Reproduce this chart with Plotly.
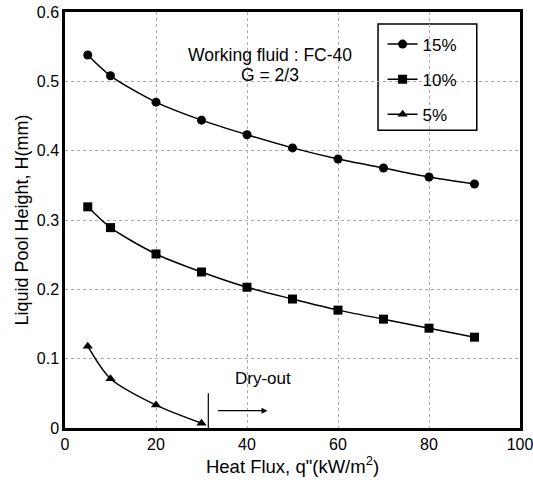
import plotly.graph_objects as go

heat_flux = [5, 10, 20, 30, 40, 50, 60, 70, 80, 90]
h_15 = [0.538, 0.508, 0.470, 0.444, 0.423, 0.404, 0.388, 0.375, 0.362, 0.352]
h_10 = [0.319, 0.289, 0.251, 0.225, 0.203, 0.186, 0.170, 0.157, 0.144, 0.131]
heat_flux_5 = [5, 10, 20, 30]
h_5 = [0.118, 0.071, 0.033, 0.007]

x_ticks = [0, 20, 40, 60, 80, 100]
y_ticks = [0, 0.1, 0.2, 0.3, 0.4, 0.5, 0.6]
y_tick_labels = ["0", "0.1", "0.2", "0.3", "0.4", "0.5", "0.6"]

FONT = "Liberation Sans, Arial, sans-serif"

fig = go.Figure()
series = [
    ("15%", heat_flux, h_15, "circle", 9),
    ("10%", heat_flux, h_10, "square", 9),
    ("5%", heat_flux_5, h_5, "triangle-up", 9),
]
for name, xs, ys, sym, sz in series:
    fig.add_trace(go.Scatter(
        x=xs, y=ys, name=name, mode="lines+markers", legendgroup=name,
        line=dict(color="black", width=1.5, shape="spline", smoothing=0.8),
        marker=dict(symbol=sym, size=sz, color="black"),
    ))

# Dry-out marker line and arrow
fig.add_shape(type="line", x0=31.5, x1=31.5, y0=0, y1=0.05,
              line=dict(color="black", width=1.2))
fig.add_annotation(x=44.5, y=0.025, ax=33.3, ay=0.025, xref="x", yref="y",
                   axref="x", ayref="y", showarrow=True, arrowhead=2,
                   arrowsize=1, arrowwidth=1.2, arrowcolor="black", text="")
fig.add_annotation(x=43.6, y=0.072, text="Dry-out", showarrow=False,
                   font=dict(size=17, color="black", family=FONT))

fig.add_annotation(xref="paper", yref="paper", x=0.451, y=0.925,
                   text="Working fluid : FC-40", showarrow=False,
                   font=dict(size=17.5, color="black", family=FONT))
fig.add_annotation(xref="paper", yref="paper", x=0.451, y=0.877,
                   text="G = 2/3", showarrow=False,
                   font=dict(size=17.5, color="black", family=FONT))

# legend frame
fig.add_shape(type="rect", xref="paper", yref="paper",
              x0=0.688, x1=0.905, y0=0.716, y1=0.971,
              line=dict(color="black", width=1.5), fillcolor="white", layer="below")

fig.update_layout(
    width=533, height=483,
    margin=dict(l=65, r=13, t=12, b=55),
    plot_bgcolor="white", paper_bgcolor="white",
    font=dict(family=FONT, size=15, color="black"),
    showlegend=True,
    legend=dict(x=0.698, y=0.965, xanchor="left", yanchor="top",
                borderwidth=0, bgcolor="rgba(0,0,0,0)",
                font=dict(size=17, family=FONT), itemwidth=30,
                tracegroupgap=10),
)
fig.update_xaxes(
    range=[0, 100], tickvals=x_ticks, ticks="", showline=True,
    linecolor="black", linewidth=2.5, mirror=True,
    showgrid=True, gridcolor="#aaaaaa", griddash="dot", gridwidth=1,
    zeroline=False, automargin=False, tickfont=dict(size=16),
    ticklabeloverflow="allow",
    title=dict(text="Heat Flux, q\"(kW/m<sup>2</sup>)", font=dict(size=18.5), standoff=6),
)
fig.update_yaxes(
    range=[0, 0.6], tickvals=y_ticks, ticktext=y_tick_labels, ticks="",
    showline=True, linecolor="black", linewidth=2.5, mirror=True,
    showgrid=True, gridcolor="#aaaaaa", griddash="dot", gridwidth=1,
    zeroline=False, automargin=False, tickfont=dict(size=16),
    ticklabeloverflow="allow",
    title=dict(text="Liquid Pool Height, H(mm)", font=dict(size=18), standoff=4),
)

fig.write_html("out.html", config={"displayModeBar": False},
               post_script="document.body.style.margin='0';")
